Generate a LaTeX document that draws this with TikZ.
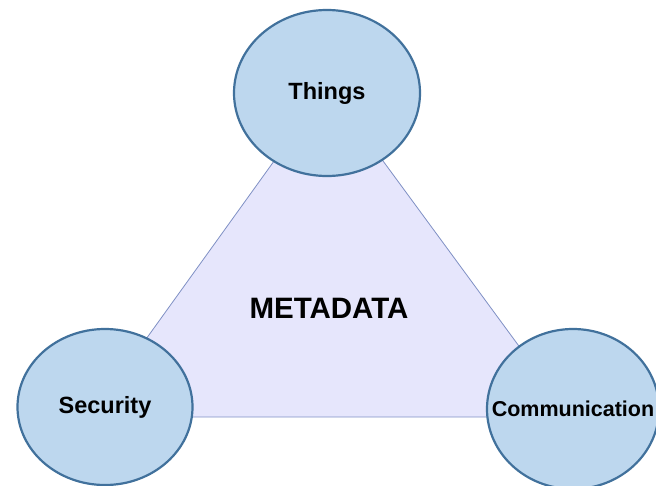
\documentclass[tikz,border=0pt]{standalone}
\usepackage{fontspec}
\setmainfont{Liberation Sans}
\usetikzlibrary{shapes.geometric}
\definecolor{bubblefill}{HTML}{BDD7EE}
\definecolor{bubbleline}{HTML}{41719C}
\definecolor{trifill}{HTML}{E6E6FC}
\definecolor{triline}{HTML}{7F90C4}
\tikzset{
  bubble/.style={draw=bubbleline, fill=bubblefill, ellipse, line width=2.2pt, inner sep=0pt, font=\bfseries\fontsize{23.5}{26}\selectfont},
  tri/.style={draw=triline, fill=trifill, line width=0.8pt},
}

\begin{document}
\begin{tikzpicture}[x=1pt, y=-1pt]
\useasboundingbox (0,0) rectangle (656,485);

\coordinate (ta) at (328,86);
\coordinate (tl) at (90,417);
\coordinate (tr) at (571,417);
\draw[tri] (ta) -- (tl) -- (tr) -- cycle;

\node[font=\bfseries\fontsize{29.5}{33}\selectfont] (meta) at (329,308) {METADATA};

\node[bubble, minimum width=186pt, minimum height=166pt] (things) at (327,93) {Things};
\node[bubble, minimum width=175pt, minimum height=156pt] (sec) at (105,407) {Security};
\node[bubble, minimum width=172pt, minimum height=160pt, inner xsep=-30pt, font=\bfseries\fontsize{21.5}{24}\selectfont] (comm) at (573,409) {Communication};

\end{tikzpicture}
\end{document}
